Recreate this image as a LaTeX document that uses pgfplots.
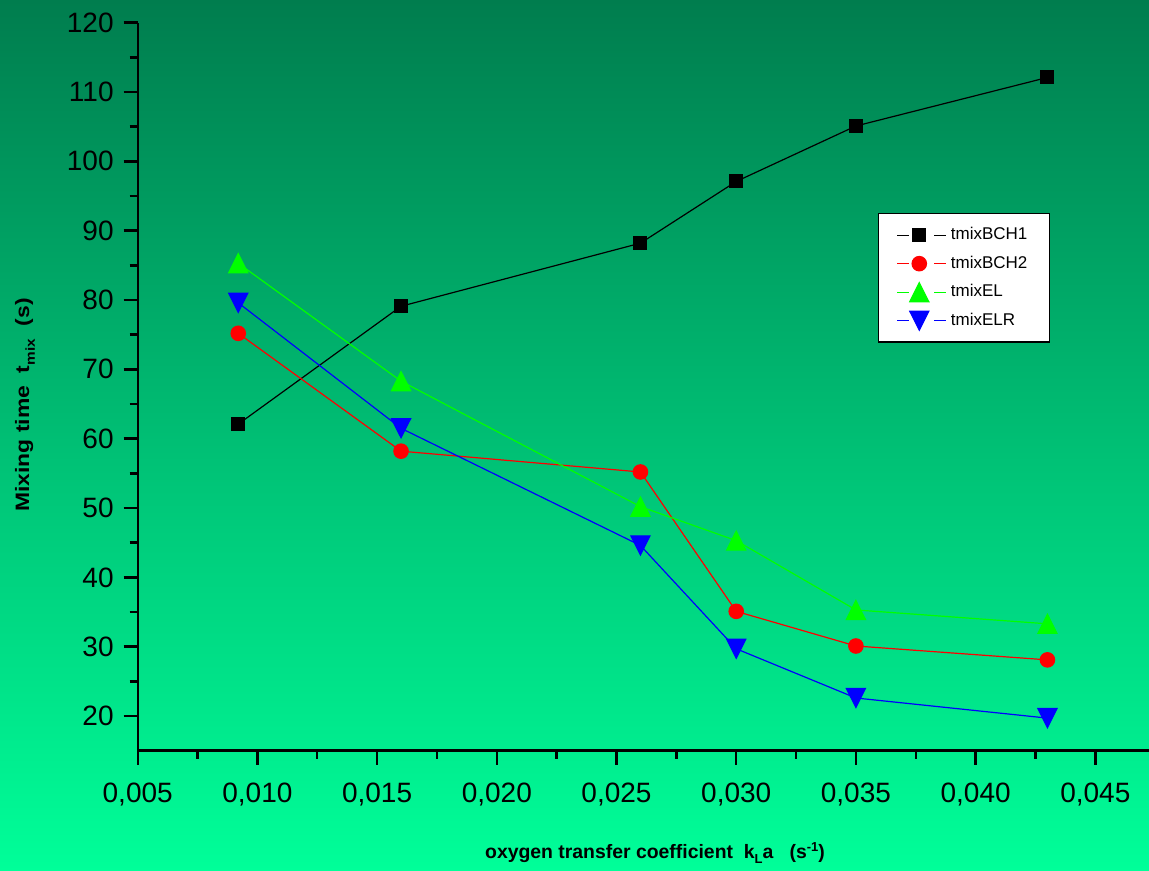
\documentclass[border=0pt]{standalone}
\usepackage{pgfplots}
\pgfplotsset{compat=1.18}
\usepackage{fontspec}
\setmainfont{Liberation Sans}
\definecolor{bgtop}{RGB}{0,125,78}
\definecolor{bgbot}{RGB}{0,255,153}
\definecolor{pgreen}{RGB}{0,255,0}
\definecolor{pblue}{RGB}{0,0,255}
\definecolor{pred}{RGB}{255,0,0}
\begin{document}
\begin{tikzpicture}[x=1pt,y=1pt]
\shade[top color=bgtop, bottom color=bgbot] (0,0) rectangle (574.5,435.5);
\begin{axis}[
  at={(68.85pt,60.15pt)}, anchor=south west,
  scale only axis, width=505.65pt, height=364pt,
  xmin=0.005, xmax=0.047243, ymin=15, ymax=120,
  axis x line=bottom, axis y line=left,
  axis line style={-, line width=1.2pt, black},
  xtick={0.005,0.010,0.015,0.020,0.025,0.030,0.035,0.040,0.045},
  ytick={20,30,40,50,60,70,80,90,100,110,120},
  minor x tick num=1, minor y tick num=1,
  tick align=outside, major tick length=7pt, minor tick length=4pt,
  tick style={black, line width=1.2pt},
  scaled x ticks=false,
  xticklabel style={/pgf/number format/.cd, fixed, fixed zerofill, precision=3, use comma, /tikz/.cd, yshift=-5.5pt},
  yticklabel style={xshift=-1.5pt},
  /pgf/number format/assume math mode=true,
  ticklabel style={font=\fontsize{14}{17}\selectfont},
  xlabel={\textbf{oxygen transfer coefficient\ \ k\raisebox{-0.55ex}{\fontsize{6.5}{7}\selectfont L}a\ \ \ (s\raisebox{0.7ex}{\fontsize{6.5}{7}\selectfont -1})}},
  ylabel={\scalebox{1.18}[1]{\textbf{Mixing time\ \ t\raisebox{-0.55ex}{\fontsize{6.5}{7}\selectfont mix}\ \ (s)}}},
  every axis x label/.style={at={(axis description cs:0.5115,-0.1405)}, anchor=center, font=\fontsize{9.7}{11}\selectfont},
  every axis y label/.style={at={(axis description cs:-0.1114,0.4749)}, anchor=center, rotate=90, font=\fontsize{9.7}{11}\selectfont},
  legend style={at={(0.732,0.7386)}, anchor=north west, fill=white, draw=black, line width=0.7pt,
    font=\fontsize{8.5}{10}\selectfont, row sep=2.6pt, inner xsep=9pt, inner ysep=4.9pt},
  legend cell align=left,
  legend image code/.code={
    \draw[#1,mark=none] (0pt,0pt) -- (6pt,0pt);
    \draw[#1,mark=none] (18.5pt,0pt) -- (24.5pt,0pt);
    \draw[#1,only marks] plot coordinates {(11pt,0pt)};
  },
  clip=false,
]
\addplot[black, line width=0.6pt, mark=square*, mark size=3.2pt] coordinates {
  (0.0092,62.1) (0.016,79.1) (0.026,88.2) (0.030,97.1) (0.035,105.1) (0.043,112.1)};
\addlegendentry{tmixBCH1}
\addplot[pred, line width=0.6pt, mark=*, mark size=3.6pt] coordinates {
  (0.0092,75.2) (0.016,58.2) (0.026,55.2) (0.030,35.1) (0.035,30.1) (0.043,28.1)};
\addlegendentry{tmixBCH2}
\addplot[pgreen, line width=0.6pt, mark=triangle*, mark size=5.5pt, mark options={yshift=-1.6pt, yscale=1.15}] coordinates {
  (0.0092,85.3) (0.016,68.3) (0.026,50.2) (0.030,45.3) (0.035,35.3) (0.043,33.3)};
\addlegendentry{tmixEL}
\addplot[pblue, line width=0.6pt, mark=triangle*, mark size=5.5pt, mark options={yshift=1.6pt, rotate=180, yscale=1.15}] coordinates {
  (0.0092,79.6) (0.016,61.5) (0.026,44.6) (0.030,29.7) (0.035,22.6) (0.043,19.7)};
\addlegendentry{tmixELR}
\end{axis}
\pgfresetboundingbox
\useasboundingbox (0,0) rectangle (574.5,435.5);
\end{tikzpicture}
\end{document}
